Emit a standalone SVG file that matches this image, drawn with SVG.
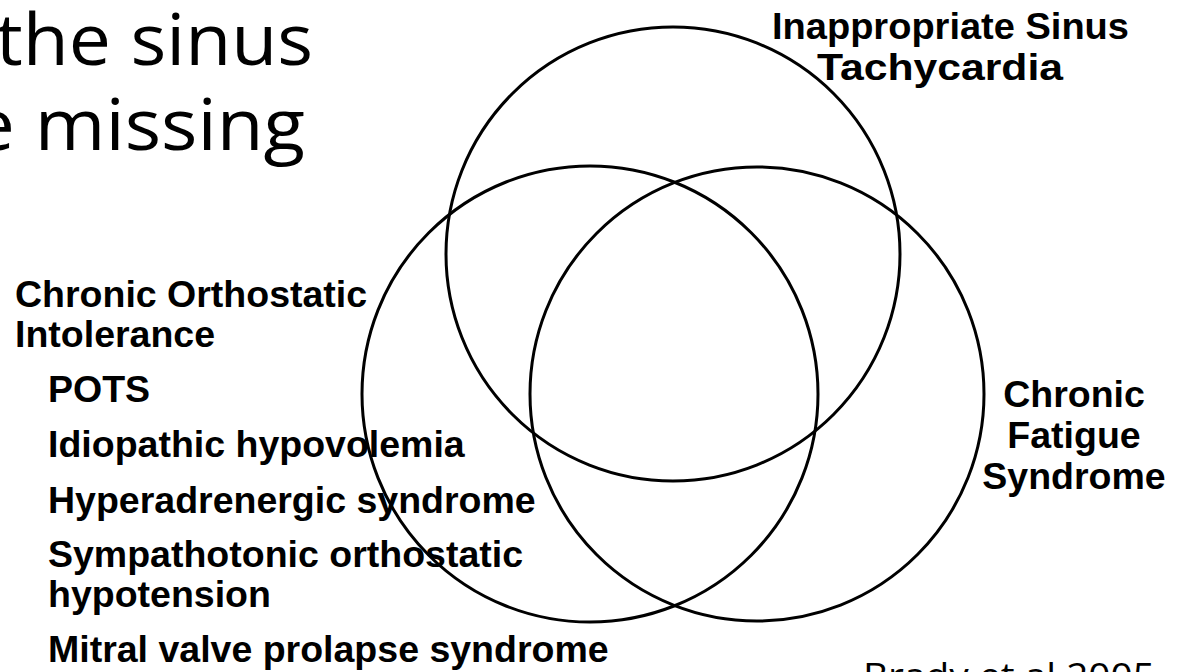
<svg xmlns="http://www.w3.org/2000/svg" width="1179" height="672" viewBox="0 0 1179 672">
  <style>
    .title { font-family: "Open Sans", "DejaVu Sans", sans-serif; font-size: 71px; fill: #000; }
    .cite { font-family: "Open Sans", "DejaVu Sans", sans-serif; font-size: 37px; fill: #000; }
    .lbl { font-family: "Liberation Sans", Arial, sans-serif; font-weight: bold; font-size: 37.5px; fill: #000; }
    .ring { fill: none; stroke: #000; stroke-width: 3; }
  </style>
  <rect x="0" y="0" width="1179" height="672" fill="#ffffff"/>
  <g id="title">
    <text class="title" x="-4" y="65" textLength="317" lengthAdjust="spacingAndGlyphs">the sinus</text>
    <text class="title" x="-28" y="150" textLength="333" lengthAdjust="spacingAndGlyphs">e missing</text>
  </g>
  <g id="connectors"></g>
  <g id="node-ist">
    <circle class="ring" cx="673" cy="254" r="227"/>
    <text class="lbl" x="772" y="39" textLength="357" lengthAdjust="spacingAndGlyphs">Inappropriate Sinus</text>
    <text class="lbl" x="817" y="80" textLength="246" lengthAdjust="spacingAndGlyphs">Tachycardia</text>
  </g>
  <g id="node-coi">
    <circle class="ring" cx="590" cy="394" r="228"/>
    <text class="lbl" x="15" y="307">Chronic Orthostatic</text>
    <text class="lbl" x="15" y="347">Intolerance</text>
    <text class="lbl" x="48" y="402">POTS</text>
    <text class="lbl" x="48" y="457">Idiopathic hypovolemia</text>
    <text class="lbl" x="48" y="513">Hyperadrenergic syndrome</text>
    <text class="lbl" x="48" y="567">Sympathotonic orthostatic</text>
    <text class="lbl" x="48" y="607">hypotension</text>
    <text class="lbl" x="48" y="662">Mitral valve prolapse syndrome</text>
  </g>
  <g id="node-cfs">
    <circle class="ring" cx="757" cy="394" r="227"/>
    <text class="lbl" x="1074" y="407" text-anchor="middle">Chronic</text>
    <text class="lbl" x="1074" y="448" text-anchor="middle">Fatigue</text>
    <text class="lbl" x="1074" y="489" text-anchor="middle">Syndrome</text>
  </g>
  <g id="citation">
    <text class="cite" x="863" y="689" textLength="292" lengthAdjust="spacingAndGlyphs">Brady et al 2005</text>
  </g>
</svg>
